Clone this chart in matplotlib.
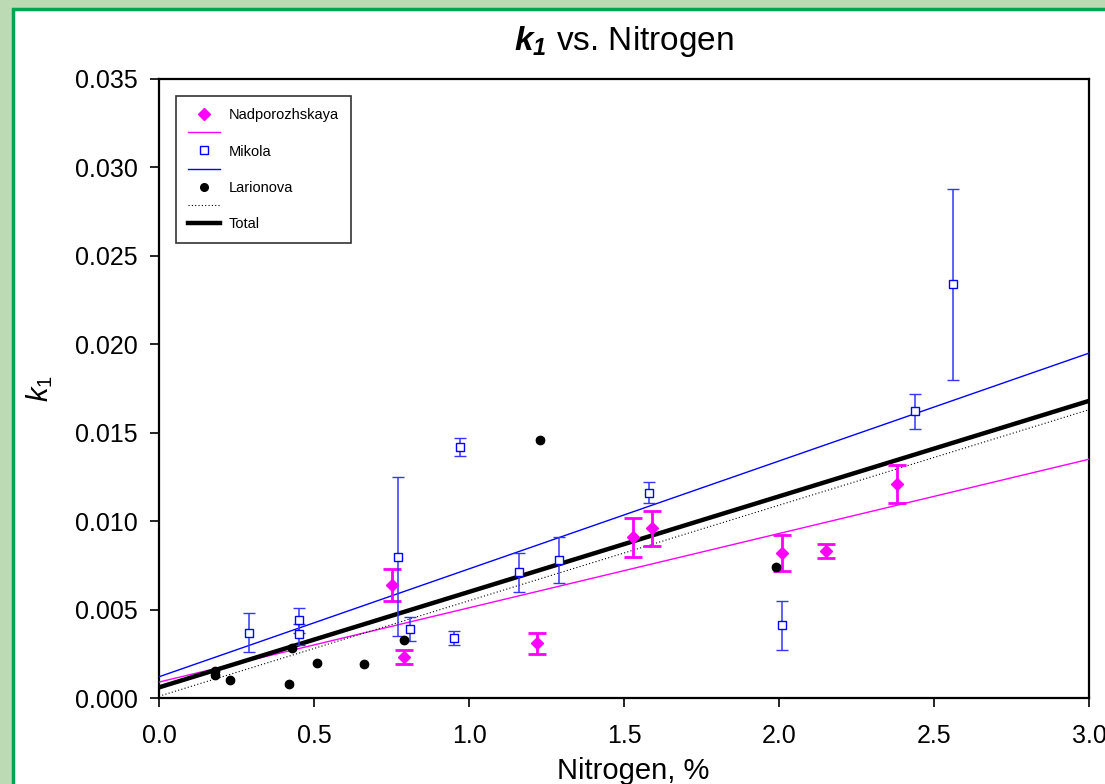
import matplotlib
matplotlib.use("Agg")
import matplotlib.pyplot as plt
import numpy as np
from matplotlib.patches import Rectangle
from matplotlib.lines import Line2D

plt.rcParams['font.family'] = ['Liberation Sans', 'DejaVu Sans']
plt.rcParams['mathtext.fontset'] = 'custom'
plt.rcParams['mathtext.rm'] = 'Liberation Sans'
plt.rcParams['mathtext.it'] = 'Liberation Sans:italic'
plt.rcParams['mathtext.bf'] = 'Liberation Sans:bold'
plt.rcParams['mathtext.bfit'] = 'Liberation Sans:bold:italic'
plt.rcParams['mathtext.default'] = 'it'

# Nadporozhskaya
nad_x = [0.75, 0.79, 1.22, 1.53, 1.59, 2.01, 2.15, 2.38]
nad_y = [0.0064, 0.0023, 0.0031, 0.0091, 0.0096, 0.0082, 0.0083, 0.0121]
nad_err = [0.0009, 0.0004, 0.0006, 0.0011, 0.0010, 0.0010, 0.0004, 0.0011]

# Mikola
mik_x = [0.29, 0.45, 0.45, 0.77, 0.81, 0.95, 0.97, 1.16, 1.29, 1.58, 2.01, 2.44, 2.56]
mik_y = [0.0037, 0.0044, 0.0036, 0.0080, 0.0039, 0.0034, 0.0142, 0.0071, 0.0078,
         0.0116, 0.0041, 0.0162, 0.0234]
mik_err = [0.0011, 0.0007, 0.0006, 0.0045, 0.0007, 0.0004, 0.0005, 0.0011, 0.0013,
           0.0006, 0.0014, 0.0010, 0.0054]

# Larionova
lar_x = [0.18, 0.18, 0.23, 0.42, 0.43, 0.51, 0.66, 0.79, 1.23, 1.99]
lar_y = [0.0015, 0.0013, 0.0010, 0.0008, 0.0028, 0.0020, 0.0019, 0.0033, 0.0146, 0.0074]
lar_err = [0.0001] * len(lar_x)

# regression lines: intercept, slope
fit_names = ['Nadporozhskaya', 'Mikola', 'Larionova', 'Total']
fit_intercept = [0.0009, 0.0012, 0.0001, 0.0006]
fit_slope = [0.0042, 0.0061, 0.0054, 0.0054]

fig = plt.figure(figsize=(11.05, 7.84), dpi=100)
fig.patch.set_facecolor('#bcdab4')
panel = Rectangle((13 / 1105, -0.1), 1.2, 1.1 - 9 / 784,
                  transform=fig.transFigure, facecolor='white',
                  edgecolor='#00a651', linewidth=2.5, zorder=-10)
fig.patches.append(panel)

ax = fig.add_axes([159 / 1105, 86 / 784, 930 / 1105, 619 / 784])
ax.set_zorder(1)
ax.set_facecolor('white')

xs = np.array([0.0, 3.0])
line_styles = [
    dict(color='#ff00ff', lw=1.0, ls='-'),
    dict(color='#0000ff', lw=1.0, ls='-'),
    dict(color='black', lw=0.8, ls=(0, (1, 2))),
    dict(color='black', lw=3.2, ls='-'),
]
for b, m, st in zip(fit_intercept, fit_slope, line_styles):
    ax.plot(xs, b + m * xs, zorder=3, **st)

ax.errorbar(nad_x, nad_y, yerr=nad_err, fmt='D', color='#ff00ff', ms=6,
            elinewidth=2, capsize=6.5, capthick=2, zorder=5)
ax.errorbar(mik_x, mik_y, yerr=mik_err, fmt='s', color='#3535ff', mfc='white',
            mec='#0000ff', mew=1, ms=6.3, elinewidth=1.1, capsize=4, capthick=1.1,
            zorder=5)
ax.errorbar(lar_x, lar_y, yerr=lar_err, fmt='o', color='black', ms=6,
            elinewidth=1, capsize=3, capthick=1, zorder=6)

ax.set_xlim(0, 3.0)
ax.set_ylim(0, 0.035)
ax.set_xticks(np.arange(0, 3.01, 0.5))
ax.set_yticks(np.arange(0, 0.0351, 0.005))
ax.set_xticklabels([f'{v:.1f}' for v in np.arange(0, 3.01, 0.5)])
ax.set_yticklabels([f'{v:.3f}' for v in np.arange(0, 0.0351, 0.005)])
ax.tick_params(direction='out', length=6.5, width=1.2, labelsize=18)
ax.tick_params(axis='x', pad=12)
ax.tick_params(axis='y', pad=9)
for sp in ax.spines.values():
    sp.set_linewidth(1.6)

ax.set_xlabel('Nitrogen, %', fontsize=21, labelpad=4)
ax.xaxis.set_label_coords(0.51, -0.095)
ax.set_ylabel(r'$k_1$', fontsize=21, labelpad=14)
ax.set_title(r'$\mathbfit{k}_\mathbfit{1}$ vs. Nitrogen', fontsize=24, pad=21)

handles = [
    Line2D([], [], ls='none', marker='D', color='#ff00ff', ms=6),
    Line2D([], [], **line_styles[0]),
    Line2D([], [], ls='none', marker='s', mfc='white', mec='#0000ff', ms=6.3),
    Line2D([], [], **line_styles[1]),
    Line2D([], [], ls='none', marker='o', color='black', ms=5.5),
    Line2D([], [], **line_styles[2]),
    Line2D([], [], **line_styles[3]),
]
labels = ['Nadporozhskaya', '', 'Mikola', '', 'Larionova', '', 'Total']
leg = ax.legend(handles, labels, loc='upper left', bbox_to_anchor=(0.018, 0.9725),
                borderaxespad=0, fontsize=10.5, frameon=True, fancybox=False,
                edgecolor='black', handlelength=2.2, labelspacing=0.28,
                borderpad=0.85, handletextpad=0.6)
leg.get_frame().set_linewidth(1.2)

fig.savefig('out.png', dpi=100, facecolor=fig.get_facecolor())
